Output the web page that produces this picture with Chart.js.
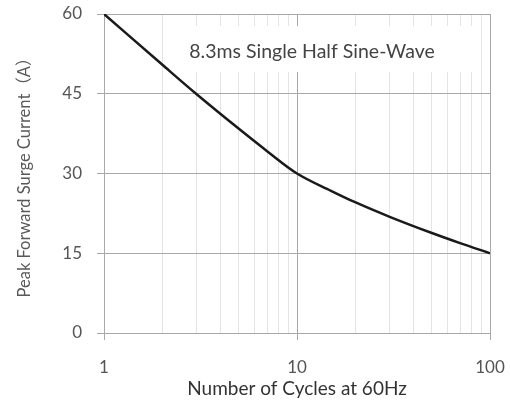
<!DOCTYPE html>
<html>
<head>
<meta charset="utf-8">
<script src="https://cdn.jsdelivr.net/npm/chart.js@4/dist/chart.umd.min.js"></script>
<style>
  html, body { margin: 0; padding: 0; background: #fff; }
  #wrap { width: 510px; height: 402px; }
</style>
</head>
<body>
<div id="wrap"><canvas id="surge"></canvas></div>
<script>
// Peak forward surge current vs number of cycles

const CYCLES = [1, 2, 3, 5, 7, 10, 15, 20, 30, 50, 70, 100];
const CURRENT = [60, 50.5, 45, 38.4, 34.2, 30, 26.75, 24.6, 21.9, 18.8, 16.9, 15];
const Y_TICKS = [0, 15, 30, 45, 60];
const X_LABELS = [1, 10, 100];
const NOTE = '8.3ms Single Half Sine-Wave';

const FONT = "Lato, 'Noto Sans CJK SC', sans-serif";
const MAJOR = '#a8a8a8';
const MINOR = '#e4e4e4';

const isDecade = v => Math.abs(Math.log10(v) - Math.round(Math.log10(v))) < 1e-9;

// text note inside the plot, on a white box that hides the grid
const notePlugin = {
  id: 'note',
  beforeDatasetsDraw(chart) {
    const { ctx, chartArea } = chart;
    const x0 = chartArea.left, y0 = chartArea.top;
    ctx.save();
    ctx.fillStyle = '#fff';
    ctx.fillRect(x0 + 74, y0 + 12, 300, 46);
    ctx.font = '19.5px ' + FONT;
    ctx.fillStyle = '#444';
    ctx.textAlign = 'center';
    ctx.textBaseline = 'middle';
    ctx.fillText(NOTE, x0 + 208, y0 + 38);
    ctx.restore();
  }
};

new Chart(document.getElementById('surge'), {
  type: 'line',
  data: {
    datasets: [{
      data: CYCLES.map((c, i) => ({ x: c, y: CURRENT[i] })),
      borderColor: '#1a1a1a',
      borderWidth: 2.5,
      pointRadius: 0,
      cubicInterpolationMode: 'monotone',
      fill: false
    }]
  },
  options: {
    responsive: true,
    maintainAspectRatio: false,
    animation: false,
    layout: { padding: { top: 14, right: 20, left: 0, bottom: 0 } },
    plugins: {
      legend: { display: false },
      tooltip: { enabled: false }
    },
    scales: {
      x: {
        type: 'logarithmic',
        min: 1,
        max: 100,
        afterBuildTicks(scale) {
          const t = [];
          for (let d = 1; d < 100; d *= 10) {
            for (let k = 1; k < 10; k++) t.push({ value: d * k });
          }
          t.push({ value: 100 });
          scale.ticks = t;
        },
        afterFit(scale) {
          scale.height = 69;
          scale.paddingLeft = 0;
          scale.paddingRight = 0;
        },
        ticks: {
          autoSkip: false,
          maxRotation: 0,
          color: '#555',
          padding: 17,
          font: { family: FONT, size: 17 },
          callback: v => (X_LABELS.includes(v) ? String(v) : '')
        },
        grid: {
          color: c => (c.tick && isDecade(c.tick.value) ? MAJOR : MINOR),
          tickColor: c => (c.tick && isDecade(c.tick.value) ? MAJOR : 'rgba(0,0,0,0)'),
          tickLength: 7,
          lineWidth: 1
        },
        border: { display: false },
        title: {
          display: true,
          text: 'Number of Cycles at 60Hz',
          color: '#333',
          font: { family: FONT, size: 19 },
          padding: { top: 0, bottom: 2 }
        }
      },
      y: {
        min: 0,
        max: 60,
        afterBuildTicks(scale) {
          scale.ticks = Y_TICKS.map(v => ({ value: v }));
        },
        afterFit(scale) {
          scale.width = 104;
          scale.paddingTop = 0;
          scale.paddingBottom = 0;
        },
        ticks: {
          color: '#555',
          padding: 15,
          font: { family: FONT, size: 17 }
        },
        grid: {
          color: MAJOR,
          tickColor: MAJOR,
          tickLength: 7,
          lineWidth: 1
        },
        border: { display: true, color: MAJOR },
        title: {
          display: true,
          text: 'Peak Forward Surge Current（A）',
          color: '#595959',
          font: { family: FONT, size: 16.5 },
          padding: { top: 15, bottom: 0 }
        }
      }
    }
  },
  plugins: [notePlugin]
});
</script>
</body>
</html>
